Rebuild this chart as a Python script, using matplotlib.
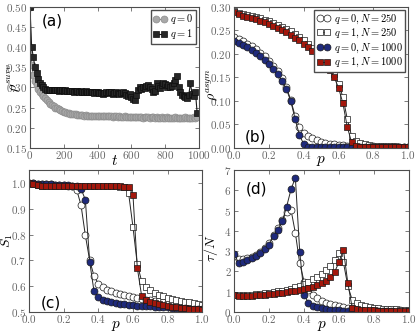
'''
four panel figure: survival density, asymptotic density, S1 and tau/N
'''
# import libraries ----------------------------------------
import numpy as np
import matplotlib
matplotlib.use('Agg')
import matplotlib.pyplot as plt
from matplotlib.ticker import MultipleLocator

# data ----------------------------------------------------
# panel (a): time series
t = np.arange(0, 1000, 10)
rho_surv_q0 = [
    0.500, 0.355, 0.330, 0.316, 0.305, 0.297, 0.290, 0.284, 0.278, 0.273,
    0.268, 0.264, 0.260, 0.256, 0.253, 0.250, 0.248, 0.246, 0.244, 0.242,
    0.240, 0.239, 0.237, 0.236, 0.235, 0.234, 0.233, 0.233, 0.232, 0.232,
    0.231, 0.231, 0.230, 0.231, 0.230, 0.230, 0.229, 0.230, 0.229, 0.229,
    0.230, 0.229, 0.228, 0.229, 0.229, 0.228, 0.228, 0.229, 0.228, 0.227,
    0.228, 0.228, 0.227, 0.228, 0.227, 0.227, 0.228, 0.227, 0.226, 0.227,
    0.227, 0.226, 0.227, 0.226, 0.226, 0.227, 0.226, 0.225, 0.226, 0.226,
    0.226, 0.225, 0.226, 0.226, 0.225, 0.226, 0.225, 0.225, 0.226, 0.225,
    0.225, 0.226, 0.225, 0.224, 0.225, 0.225, 0.226, 0.225, 0.224, 0.225,
    0.225, 0.225, 0.226, 0.225, 0.224, 0.225, 0.225, 0.226, 0.225, 0.226,
]
rho_surv_q1 = [
    0.500, 0.400, 0.375, 0.350, 0.335, 0.322, 0.312, 0.305, 0.300, 0.297,
    0.294, 0.293, 0.294, 0.293, 0.294, 0.293, 0.294, 0.292, 0.293, 0.294,
    0.292, 0.293, 0.291, 0.292, 0.292, 0.291, 0.290, 0.292, 0.291, 0.290,
    0.291, 0.290, 0.289, 0.291, 0.290, 0.289, 0.290, 0.288, 0.287, 0.289,
    0.288, 0.286, 0.287, 0.285, 0.287, 0.289, 0.287, 0.290, 0.288, 0.285,
    0.287, 0.289, 0.286, 0.283, 0.287, 0.290, 0.286, 0.282, 0.279, 0.283,
    0.276, 0.272, 0.270, 0.282, 0.293, 0.300, 0.297, 0.302, 0.298, 0.303,
    0.306, 0.301, 0.296, 0.288, 0.292, 0.310, 0.304, 0.298, 0.307, 0.311,
    0.309, 0.300, 0.305, 0.301, 0.304, 0.312, 0.318, 0.329, 0.300, 0.288,
    0.281, 0.278, 0.277, 0.274, 0.281, 0.310, 0.284, 0.280, 0.288, 0.236,
]

# panels (b)-(d): p grid
p = np.linspace(0, 1, 41)

# panel (b): asymptotic density
rho_asym_q0_250 = [
    0.236, 0.232, 0.227, 0.222, 0.216, 0.210, 0.203, 0.195, 0.186, 0.175,
    0.163, 0.148, 0.129, 0.102, 0.068, 0.045, 0.032, 0.025, 0.020, 0.016,
    0.013, 0.011, 0.009, 0.008, 0.007, 0.006, 0.005, 0.005, 0.004, 0.004,
    0.003, 0.003, 0.003, 0.002, 0.002, 0.002, 0.002, 0.002, 0.002, 0.002,
    0.002,
]
rho_asym_q1_250 = [
    0.292, 0.288, 0.285, 0.283, 0.281, 0.279, 0.276, 0.273, 0.270, 0.266,
    0.262, 0.258, 0.253, 0.248, 0.242, 0.236, 0.229, 0.221, 0.213, 0.204,
    0.195, 0.184, 0.172, 0.157, 0.137, 0.108, 0.062, 0.025, 0.015, 0.011,
    0.008, 0.006, 0.005, 0.004, 0.004, 0.003, 0.003, 0.003, 0.002, 0.002,
    0.002,
]
rho_asym_q0_1000 = [
    0.228, 0.224, 0.219, 0.214, 0.208, 0.202, 0.195, 0.187, 0.178, 0.168,
    0.157, 0.143, 0.125, 0.100, 0.062, 0.027, 0.008, 0.002, 0.001, 0.001,
    0.001, 0.001, 0.001, 0.001, 0.001, 0.001, 0.001, 0.001, 0.001, 0.001,
    0.001, 0.001, 0.001, 0.001, 0.001, 0.001, 0.001, 0.001, 0.001, 0.001,
    0.001,
]
rho_asym_q1_1000 = [
    0.290, 0.285, 0.281, 0.279, 0.277, 0.274, 0.271, 0.268, 0.264, 0.260,
    0.256, 0.251, 0.246, 0.241, 0.235, 0.229, 0.222, 0.214, 0.206, 0.197,
    0.188, 0.178, 0.166, 0.150, 0.128, 0.095, 0.045, 0.012, 0.003, 0.002,
    0.002, 0.002, 0.002, 0.002, 0.002, 0.002, 0.002, 0.002, 0.002, 0.002,
    0.002,
]

# panel (c): largest component
s1_q0_250 = [
    1.000, 0.999, 0.998, 0.997, 0.996, 0.995, 0.994, 0.993, 0.992, 0.990,
    0.988, 0.974, 0.914, 0.797, 0.700, 0.640, 0.610, 0.596, 0.587, 0.580,
    0.574, 0.569, 0.565, 0.561, 0.557, 0.554, 0.551, 0.548, 0.546, 0.544,
    0.541, 0.539, 0.537, 0.535, 0.533, 0.532, 0.530, 0.529, 0.527, 0.526,
    0.525,
]
s1_q1_250 = [
    1.000, 0.995, 0.991, 0.990, 0.989, 0.989, 0.989, 0.988, 0.988, 0.988,
    0.988, 0.988, 0.988, 0.988, 0.988, 0.988, 0.988, 0.988, 0.988, 0.987,
    0.987, 0.986, 0.984, 0.960, 0.830, 0.685, 0.620, 0.598, 0.585, 0.575,
    0.567, 0.561, 0.556, 0.551, 0.547, 0.543, 0.540, 0.537, 0.534, 0.531,
    0.529,
]
s1_q0_1000 = [
    1.000, 0.999, 0.998, 0.997, 0.996, 0.995, 0.994, 0.993, 0.992, 0.991,
    0.990, 0.988, 0.978, 0.935, 0.695, 0.580, 0.557, 0.548, 0.543, 0.539,
    0.536, 0.533, 0.531, 0.529, 0.527, 0.525, 0.524, 0.523, 0.522, 0.521,
    0.520, 0.519, 0.518, 0.517, 0.516, 0.515, 0.514, 0.513, 0.512, 0.511,
    0.510,
]
s1_q1_1000 = [
    1.000, 0.995, 0.991, 0.990, 0.989, 0.989, 0.989, 0.988, 0.988, 0.988,
    0.988, 0.988, 0.988, 0.988, 0.988, 0.988, 0.988, 0.988, 0.988, 0.988,
    0.987, 0.987, 0.986, 0.984, 0.955, 0.672, 0.563, 0.548, 0.540, 0.534,
    0.530, 0.526, 0.523, 0.520, 0.518, 0.516, 0.514, 0.512, 0.511, 0.510,
    0.509,
]

# panel (d): tau / N
tau_q0_250 = [
    2.75, 2.62, 2.60, 2.65, 2.72, 2.82, 2.97, 3.17, 3.40, 3.78,
    4.15, 4.55, 4.95, 5.05, 3.90, 2.40, 1.50, 1.10, 0.85, 0.68,
    0.56, 0.46, 0.39, 0.33, 0.28, 0.24, 0.21, 0.19, 0.17, 0.15,
    0.14, 0.13, 0.12, 0.11, 0.10, 0.095, 0.09, 0.085, 0.08, 0.075,
    0.07,
]
tau_q1_250 = [
    0.85, 0.82, 0.82, 0.83, 0.85, 0.87, 0.89, 0.92, 0.95, 0.98,
    1.02, 1.06, 1.11, 1.16, 1.22, 1.30, 1.40, 1.50, 1.62, 1.75,
    1.90, 2.08, 2.28, 2.55, 2.92, 2.45, 1.30, 0.60, 0.45, 0.36,
    0.30, 0.25, 0.22, 0.19, 0.17, 0.15, 0.14, 0.13, 0.12, 0.11,
    0.10,
]
tau_q0_1000 = [
    2.87, 2.42, 2.47, 2.55, 2.65, 2.75, 2.92, 3.12, 3.33, 3.75,
    4.03, 4.47, 5.20, 6.05, 6.63, 2.97, 0.85, 0.45, 0.32, 0.24,
    0.19, 0.15, 0.12, 0.10, 0.085, 0.07, 0.06, 0.05, 0.045, 0.042,
    0.04, 0.038, 0.035, 0.033, 0.03, 0.028, 0.026, 0.025, 0.023, 0.022,
    0.02,
]
tau_q1_1000 = [
    0.82, 0.78, 0.78, 0.79, 0.80, 0.82, 0.84, 0.86, 0.88, 0.90,
    0.93, 0.96, 0.99, 1.02, 1.05, 1.09, 1.13, 1.18, 1.24, 1.32,
    1.42, 1.55, 1.72, 1.98, 2.47, 3.08, 1.45, 0.22, 0.15, 0.12,
    0.10, 0.09, 0.08, 0.07, 0.065, 0.06, 0.055, 0.05, 0.045, 0.042,
    0.04,
]

# style ---------------------------------------------------
plt.rcParams['mathtext.fontset'] = 'cm'
plt.rcParams['font.family'] = ['cmr10']
plt.rcParams['axes.formatter.use_mathtext'] = True
plt.rcParams['axes.unicode_minus'] = False

navy = '#1f2a7c'
dred = '#a3170c'
tick_col = '0.4'

fig = plt.figure(figsize=(4.16, 3.33), dpi=100)
ax_a = fig.add_axes([0.072, 0.556, 0.406, 0.423])
ax_b = fig.add_axes([0.563, 0.556, 0.418, 0.423])
ax_c = fig.add_axes([0.070, 0.063, 0.416, 0.426])
ax_d = fig.add_axes([0.563, 0.063, 0.420, 0.426])


def style(ax, ylab, xlab, ylab_pos, xlab_y):
    ax.tick_params(which='both', direction='in', top=True, right=True,
                   labelsize=8, colors=tick_col, length=3, width=0.6)
    ax.tick_params(axis='x', pad=0.5)
    ax.tick_params(axis='y', pad=2)
    for s in ax.spines.values():
        s.set_linewidth(0.8)
        s.set_color('0.3')
    ax.set_xlabel(xlab, fontsize=11)
    ax.set_ylabel(ylab, fontsize=10)
    ax.yaxis.set_label_coords(*ylab_pos)
    ax.xaxis.set_label_coords(0.5, xlab_y)


def series(ax, x, y, marker, face, label):
    ax.plot(x, y, '-', color='0.15', lw=0.7, marker=marker, ms=5,
            mfc=face, mec='0.1', mew=0.5, label=label)


leg_kw = dict(loc='upper right', numpoints=2, fontsize=7.5, fancybox=False,
              edgecolor='0.3', framealpha=1, handlelength=1.3,
              handletextpad=0.35, borderpad=0.25, labelspacing=0.12,
              borderaxespad=0.25)

# panel (a) -----------------------------------------------
ax_a.plot(t, rho_surv_q0, '-', color='0.55', lw=0.8, marker='o', ms=5,
          mfc='0.66', mec='0.55', mew=0.5, label='$q = 0$')
ax_a.plot(t, rho_surv_q1, '-', color='0.1', lw=0.8, marker='s', ms=5,
          mfc='0.15', mec='0.05', mew=0.5, label='$q = 1$')
ax_a.set_xlim(0, 1000)
ax_a.set_ylim(0.15, 0.50)
ax_a.xaxis.set_major_locator(MultipleLocator(200))
ax_a.yaxis.set_major_locator(MultipleLocator(0.05))
ax_a.legend(**leg_kw)
ax_a.text(0.07, 0.9, '(a)', transform=ax_a.transAxes, fontsize=11,
          family='DejaVu Sans', va='center')
style(ax_a, '$\\rho^{surv}$', '$t$', (-0.05, 0.5), -0.045)

# panel (b) -----------------------------------------------
series(ax_b, p, rho_asym_q0_250, 'o', 'white', '$q = 0, N = 250$')
series(ax_b, p, rho_asym_q1_250, 's', 'white', '$q = 1, N = 250$')
series(ax_b, p, rho_asym_q0_1000, 'o', navy, '$q = 0, N = 1000$')
series(ax_b, p, rho_asym_q1_1000, 's', dred, '$q = 1, N = 1000$')
ax_b.set_xlim(0, 1)
ax_b.set_ylim(0, 0.30)
ax_b.xaxis.set_major_locator(MultipleLocator(0.2))
ax_b.yaxis.set_major_locator(MultipleLocator(0.05))
ax_b.legend(**leg_kw)
ax_b.text(0.06, 0.08, '(b)', transform=ax_b.transAxes, fontsize=11,
          family='DejaVu Sans', va='center')
style(ax_b, '$\\rho^{asym}$', '$p$', (-0.08, 0.45), -0.045)

# panel (c) -----------------------------------------------
series(ax_c, p, s1_q0_250, 'o', 'white', None)
series(ax_c, p, s1_q1_250, 's', 'white', None)
series(ax_c, p, s1_q0_1000, 'o', navy, None)
series(ax_c, p, s1_q1_1000, 's', dred, None)
ax_c.set_xlim(0, 1)
ax_c.set_ylim(0.5, 1.05)
ax_c.xaxis.set_major_locator(MultipleLocator(0.2))
ax_c.yaxis.set_major_locator(MultipleLocator(0.1))
ax_c.text(0.065, 0.067, '(c)', transform=ax_c.transAxes, fontsize=11,
          family='DejaVu Sans', va='center')
style(ax_c, '$S_1$', '$p$', (-0.082, 0.5), -0.05)

# panel (d) -----------------------------------------------
series(ax_d, p, tau_q0_250, 'o', 'white', None)
series(ax_d, p, tau_q1_250, 's', 'white', None)
series(ax_d, p, tau_q0_1000, 'o', navy, None)
series(ax_d, p, tau_q1_1000, 's', dred, None)
ax_d.set_xlim(0, 1)
ax_d.set_ylim(0, 7)
ax_d.xaxis.set_major_locator(MultipleLocator(0.2))
ax_d.yaxis.set_major_locator(MultipleLocator(1))
ax_d.text(0.065, 0.866, '(d)', transform=ax_d.transAxes, fontsize=11,
          family='DejaVu Sans', va='center')
style(ax_d, '$\\tau/N$', '$p$', (-0.08, 0.45), -0.05)

# save ----------------------------------------------------
plt.savefig('out.png', dpi=100)
